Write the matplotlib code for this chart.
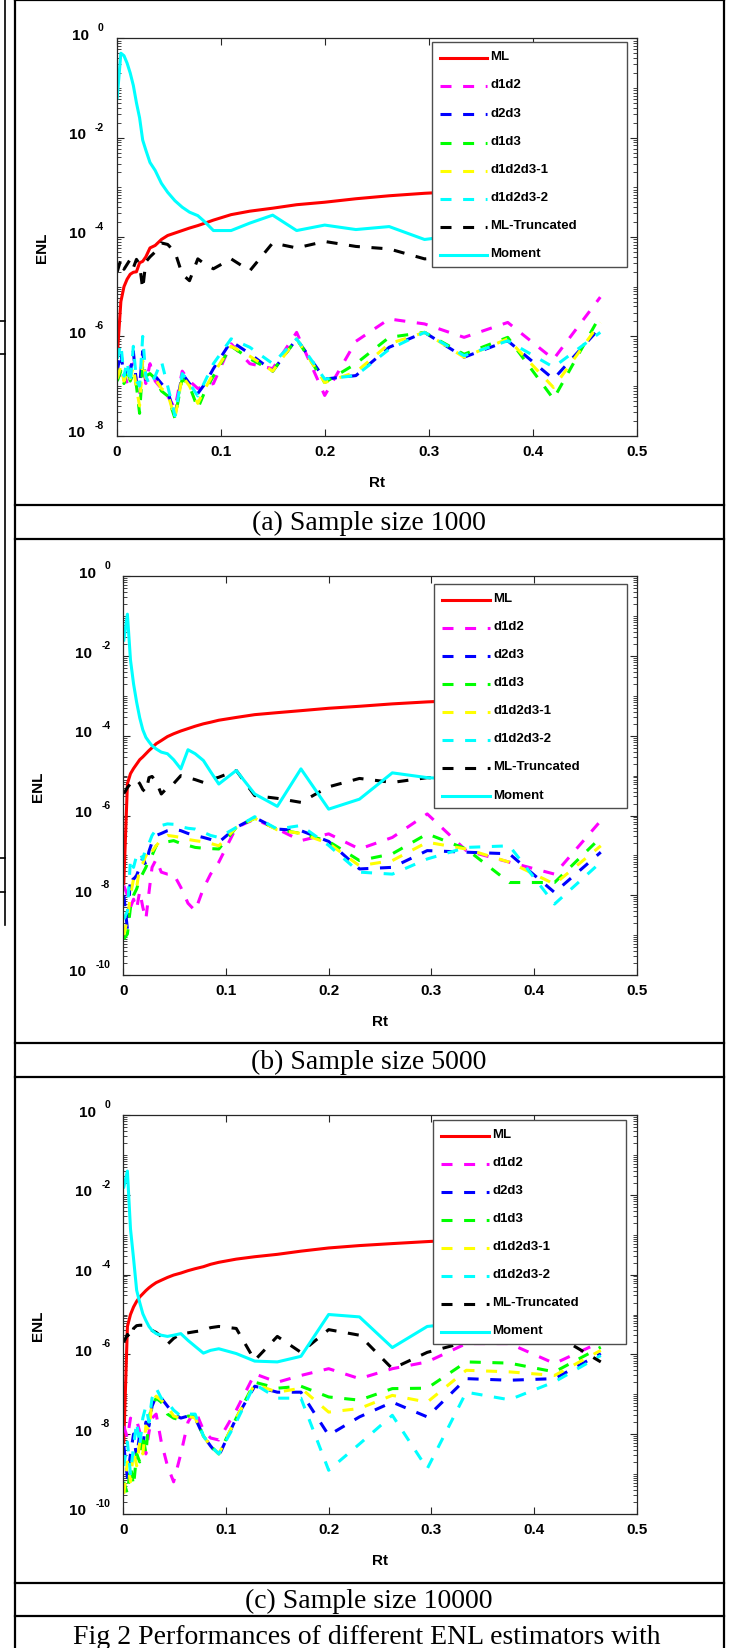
import numpy as np
import matplotlib
matplotlib.use('Agg')
import matplotlib.pyplot as plt
from matplotlib.lines import Line2D
from matplotlib.ticker import LogLocator, FixedLocator, NullFormatter
from matplotlib.transforms import ScaledTranslation
from matplotlib.legend_handler import HandlerLine2D

plt.rcParams['font.family'] = ['Liberation Sans', 'DejaVu Sans']

rt = [0.0005, 0.004, 0.007, 0.010, 0.013, 0.016, 0.019, 0.022, 0.025, 0.028,
      0.032, 0.037, 0.043, 0.049, 0.056, 0.063, 0.070, 0.078, 0.085, 0.093,
      0.110, 0.128, 0.150, 0.173, 0.200, 0.230, 0.262, 0.296, 0.334, 0.376,
      0.420, 0.465]

labels = ['ML', 'd1d2', 'd2d3', 'd1d3', 'd1d2d3-1', 'd1d2d3-2', 'ML-Truncated', 'Moment']
colors = ['#ff0000', '#ff00ff', '#0000ff', '#00ff00', '#ffff00', '#00ffff', '#000000', '#00ffff']
dashed = [False, True, True, True, True, True, True, False]

xticks = [0, 0.1, 0.2, 0.3, 0.4, 0.5]
xticklabels = ['0', '0.1', '0.2', '0.3', '0.4', '0.5']

# Panel (a): sample size 1000
a_ml = [-6.4, -5.3, -5.0, -4.85, -4.75, -4.71, -4.70, -4.52, -4.49, -4.40,
        -4.22, -4.17, -4.05, -3.97, -3.92, -3.87, -3.82, -3.77, -3.72, -3.66,
        -3.55, -3.48, -3.42, -3.35, -3.30, -3.23, -3.17, -3.12, -3.08, -3.04, -3.00, -2.97]
a_d1d2 = [-6.6, -6.85, -6.7, -6.95, -6.6, -6.55, -6.9, -7.2, -6.5, -6.95,
          -6.55, -6.9, -7.05, -7.2, -7.45, -6.7, -6.9, -7.05, -7.0, -6.95,
          -6.15, -6.55, -6.65, -5.92, -7.19, -6.1, -5.65, -5.75, -6.02, -5.72, -6.46, -5.21]
a_d2d3 = [-6.7, -6.3, -6.85, -6.6, -6.75, -6.3, -6.95, -7.0, -6.3, -6.9,
          -6.85, -6.8, -6.95, -7.1, -7.6, -6.75, -6.95, -7.15, -6.95, -6.65,
          -6.1, -6.35, -6.7, -6.05, -6.86, -6.79, -6.22, -5.92, -6.42, -6.09, -6.86, -5.82]
a_d1d3 = [-6.9, -6.7, -6.95, -6.65, -6.9, -6.75, -7.0, -7.55, -6.6, -6.8,
          -6.75, -6.85, -7.1, -7.2, -7.65, -6.85, -7.0, -7.45, -7.1, -6.8,
          -6.2, -6.45, -6.7, -6.05, -6.93, -6.55, -6.02, -5.92, -6.36, -6.02, -7.26, -5.58]
a_d1d2d3_1 = [-6.85, -6.6, -6.9, -6.7, -6.85, -6.6, -7.05, -7.4, -6.45, -6.85,
              -6.8, -6.85, -7.05, -7.15, -7.65, -6.8, -7.0, -7.35, -7.05, -6.75,
              -6.2, -6.4, -6.7, -6.05, -6.93, -6.72, -6.15, -5.92, -6.42, -6.05, -7.03, -5.72]
a_d1d2d3_2 = [-6.45, -6.15, -6.8, -6.5, -6.95, -6.2, -6.9, -7.0, -6.0, -6.8,
              -7.0, -6.8, -6.5, -7.0, -7.6, -6.75, -6.95, -7.2, -6.9, -6.55,
              -6.05, -6.22, -6.55, -6.05, -6.86, -6.79, -6.26, -5.92, -6.39, -6.09, -6.62, -5.92]
a_mltrunc = [-4.7, -4.45, -4.65, -4.55, -4.45, -4.62, -4.45, -4.55, -5.05, -4.5,
             -4.4, -4.3, -4.12, -4.15, -4.3, -4.75, -4.88, -4.44, -4.55, -4.64,
             -4.44, -4.68, -4.12, -4.22, -4.09, -4.19, -4.24, -4.44, -4.4, -4.35, -4.5, -4.4]
a_moment = [-1.2, -0.30, -0.35, -0.5, -0.7, -0.95, -1.3, -1.6, -2.05, -2.25,
            -2.5, -2.66, -2.92, -3.1, -3.27, -3.4, -3.5, -3.57, -3.7, -3.87,
            -3.87, -3.72, -3.56, -3.87, -3.76, -3.85, -3.79, -4.05, -3.95, -4.0, -4.1, -4.05]

# Panel (b): sample size 5000
b_ml = [-7.7, -5.2, -4.95, -4.82, -4.71, -4.6, -4.53, -4.45, -4.37, -4.3,
        -4.2, -4.12, -4.02, -3.95, -3.88, -3.82, -3.76, -3.70, -3.66, -3.61,
        -3.54, -3.47, -3.42, -3.37, -3.31, -3.26, -3.2, -3.15, -3.11, -3.07, -3.03, -3.0]
b_d1d2 = [-7.76, -8.0, -8.3, -8.1, -8.34, -7.9, -8.3, -8.6, -7.93, -7.3,
          -7.1, -7.42, -7.47, -7.47, -7.8, -8.2, -8.39, -7.83, -7.47, -7.17,
          -6.3, -6.09, -6.34, -6.63, -6.46, -6.84, -6.55, -5.96, -6.88, -7.17, -7.47, -6.13]
b_d2d3 = [-8.0, -8.85, -7.51, -7.6, -7.5, -7.3, -7.05, -7.25, -6.9, -6.67,
          -6.5, -6.45, -6.38, -6.34, -6.38, -6.45, -6.5, -6.55, -6.6, -6.67,
          -6.3, -6.05, -6.34, -6.38, -6.65, -7.34, -7.3, -6.88, -6.92, -6.96, -7.93, -6.92]
b_d1d3 = [-9.1, -8.97, -8.3, -8.0, -7.84, -7.6, -7.45, -7.3, -7.1, -7.0,
          -6.76, -6.7, -6.66, -6.63, -6.7, -6.75, -6.8, -6.82, -6.83, -6.84,
          -6.3, -6.07, -6.35, -6.45, -6.65, -7.13, -6.96, -6.46, -6.84, -7.68, -7.68, -6.55]
b_d1d2d3_1 = [-9.0, -8.6, -8.0, -7.59, -7.8, -7.3, -7.2, -7.0, -7.1, -6.9,
              -6.76, -6.6, -6.5, -6.52, -6.55, -6.6, -6.63, -6.66, -6.7, -6.76,
              -6.3, -6.07, -6.36, -6.45, -6.7, -7.26, -7.13, -6.67, -6.84, -7.17, -7.72, -6.76]
b_d1d2d3_2 = [-8.6, -8.4, -7.09, -7.3, -7.0, -6.92, -7.1, -6.8, -6.7, -6.5,
              -6.35, -6.25, -6.21, -6.22, -6.28, -6.32, -6.34, -6.42, -6.5, -6.55,
              -6.3, -6.03, -6.34, -6.25, -6.75, -7.42, -7.47, -7.09, -6.8, -6.76, -8.22, -7.17]
b_mltrunc = [-5.45, -5.3, -5.2, -5.13, -5.1, -5.2, -5.35, -5.42, -5.05, -5.02,
             -5.15, -5.46, -5.3, -5.2, -5.0, -5.05, -5.1, -5.17, -5.1, -5.04,
             -4.87, -5.5, -5.57, -5.67, -5.28, -5.07, -5.17, -5.05, -5.1, -5.15, -5.1, -5.15]
b_moment = [-1.6, -0.95, -2.1, -2.7, -3.16, -3.55, -3.85, -4.04, -4.15, -4.25,
            -4.33, -4.41, -4.45, -4.6, -4.83, -4.35, -4.45, -4.62, -4.9, -5.21,
            -4.87, -5.46, -5.77, -4.83, -5.84, -5.59, -4.93, -5.05, -5.1, -5.2, -5.3, -5.2]

# Panel (c): sample size 10000
c_ml = [-8.2, -5.3, -5.0, -4.81, -4.67, -4.56, -4.48, -4.4, -4.33, -4.27,
        -4.2, -4.14, -4.07, -4.01, -3.96, -3.9, -3.85, -3.8, -3.74, -3.69,
        -3.61, -3.55, -3.49, -3.41, -3.33, -3.27, -3.22, -3.17, -3.12, -3.08, -3.04, -3.0]
c_d1d2 = [-7.8, -8.1, -7.6, -7.7, -7.65, -7.95, -8.2, -8.5, -7.95, -7.6,
          -7.5, -8.2, -8.8, -9.2, -8.5, -7.7, -7.4, -7.9, -8.1, -8.15,
          -7.4, -6.49, -6.7, -6.53, -6.36, -6.61, -6.36, -6.19, -5.73, -5.73, -6.23, -5.69]
c_d2d3 = [-8.3, -9.1, -8.5, -8.0, -8.6, -8.0, -8.3, -7.7, -7.8, -7.3,
          -7.05, -7.1, -7.3, -7.5, -7.6, -7.55, -7.6, -8.05, -8.3, -8.55,
          -7.6, -6.8, -6.95, -6.95, -8.03, -7.57, -7.2, -7.57, -6.61, -6.65, -6.61, -5.98]
c_d1d3 = [-9.2, -9.5, -8.8, -9.3, -8.5, -8.7, -8.0, -8.5, -7.6, -7.3,
          -7.1, -7.2, -7.5, -7.6, -7.65, -7.55, -7.55, -8.05, -8.3, -8.5,
          -7.6, -6.7, -6.85, -6.8, -7.07, -7.15, -6.86, -6.85, -6.19, -6.22, -6.44, -5.82]
c_d1d2d3_1 = [-9.5, -8.7, -9.2, -8.4, -8.8, -8.2, -8.5, -7.8, -7.9, -7.2,
              -7.05, -7.15, -7.3, -7.55, -7.6, -7.55, -7.6, -8.05, -8.3, -8.5,
              -7.6, -6.75, -6.95, -6.85, -7.45, -7.36, -7.03, -7.2, -6.4, -6.44, -6.53, -5.9]
c_d1d2d3_2 = [-8.8, -8.2, -9.0, -8.3, -7.7, -8.3, -7.6, -7.3, -7.7, -7.1,
              -6.85, -7.1, -7.2, -7.4, -7.55, -7.5, -7.5, -8.05, -8.3, -8.5,
              -7.7, -6.75, -7.1, -7.1, -8.91, -8.25, -7.53, -8.87, -6.95, -7.14, -6.69, -6.03]
c_mltrunc = [-5.69, -5.5, -5.6, -5.35, -5.28, -5.27, -5.27, -5.3, -5.3, -5.4,
             -5.45, -5.55, -5.75, -5.6, -5.48, -5.46, -5.43, -5.4, -5.33, -5.3,
             -5.35, -6.15, -5.55, -5.95, -5.38, -5.52, -6.36, -5.95, -5.69, -5.56, -5.5, -6.19]
c_moment = [-1.8, -1.4, -2.85, -3.6, -4.39, -4.7, -4.98, -5.15, -5.3, -5.4,
            -5.48, -5.52, -5.55, -5.52, -5.48, -5.65, -5.8, -5.97, -5.9, -5.86,
            -5.98, -6.17, -6.19, -6.05, -5.0, -5.06, -5.83, -5.3, -5.2, -5.3, -5.4, -5.5]

captions = ['(a) Sample size 1000', '(b) Sample size 5000', '(c) Sample size 10000']
fig_caption = 'Fig 2 Performances of different ENL estimators with'

# ---------------- layout (pixels of a 731x1649 canvas) ----------------
W, H = 731, 1649
fig = plt.figure(figsize=(W / 100, H / 100), dpi=100)


def fx(x):
    return x / W


def fy(y):
    return 1 - y / H


class LoweredLine(HandlerLine2D):
    """Legend line drawn a little below the label (MATLAB look)."""
    def create_artists(self, legend, orig_handle, xdescent, ydescent, width, height,
                       fontsize, trans):
        arts = super().create_artists(legend, orig_handle, xdescent, ydescent, width,
                                      height, fontsize, trans)
        for a in arts:
            if isinstance(a, Line2D):
                a.set_ydata(np.asarray(a.get_ydata()) - 0.38 * height)
        return arts


panels = [
    dict(box=(116.7, 39.3, 636.7, 436.7), ymin=-8,
         data=[a_ml, a_d1d2, a_d2d3, a_d1d3, a_d1d2d3_1, a_d1d2d3_2, a_mltrunc, a_moment],
         leg=(0.606, 0.99), cap_y=523, enl_dx=75),
    dict(box=(123.3, 577.3, 636.7, 976.0), ymin=-10,
         data=[b_ml, b_d1d2, b_d2d3, b_d1d3, b_d1d2d3_1, b_d1d2d3_2, b_mltrunc, b_moment],
         leg=(0.606, 0.981), cap_y=1062, enl_dx=85),
    dict(box=(123.3, 1116.3, 636.7, 1514.7), ymin=-10,
         data=[c_ml, c_d1d2, c_d2d3, c_d1d3, c_d1d2d3_1, c_d1d2d3_2, c_mltrunc, c_moment],
         leg=(0.604, 0.989), cap_y=1601, enl_dx=85),
]

renderer = fig.canvas.get_renderer()
x_arr = np.array(rt)

for i, p in enumerate(panels):
    x0, y0, x1, y1 = p['box']
    axw, axh = x1 - x0, y1 - y0
    ax = fig.add_axes([fx(x0), fy(y1), axw / W, axh / H])
    handles = []
    for vals, lab, col, dsh in zip(p['data'], labels, colors, dashed):
        kw = dict(color=col, lw=2.2, label=lab, solid_joinstyle='round')
        if dsh:
            kw.update(linestyle=(0, (3.6, 3.8)), dash_capstyle='butt')
        ln, = ax.plot(x_arr, 10.0 ** np.array(vals), **kw)
        handles.append(ln)

    ax.set_yscale('log')
    ax.set_xlim(0, 0.5)
    ax.set_ylim(10.0 ** p['ymin'], 1.0)
    ax.xaxis.set_major_locator(FixedLocator(xticks))
    ax.set_xticklabels(xticklabels)
    ax.yaxis.set_major_locator(FixedLocator([10.0 ** k for k in range(p['ymin'], 1, 2)]))
    ax.yaxis.set_minor_locator(LogLocator(base=10, subs=np.arange(1, 10), numticks=200))
    ax.yaxis.set_major_formatter(NullFormatter())
    ax.yaxis.set_minor_formatter(NullFormatter())
    ax.tick_params(which='both', direction='in', top=True, right=True, color='#262626')
    ax.tick_params(which='major', length=5, width=0.8)
    ax.tick_params(which='minor', length=3, width=0.6)
    ax.tick_params(axis='x', labelsize=11, pad=6)
    for t in ax.get_xticklabels():
        t.set_fontweight('bold')
    for s in ax.spines.values():
        s.set_linewidth(0.9)
        s.set_color('#262626')

    # y tick labels in the "10  -k" style
    for k in range(p['ymin'], 1, 2):
        y = 10.0 ** k
        tr_e = ax.get_yaxis_transform() + ScaledTranslation(-13 / 100, 11 / 100, fig.dpi_scale_trans)
        te = ax.text(0, y, str(k), transform=tr_e, ha='right', va='center',
                     fontsize=7.5, fontweight='bold')
        wpx = te.get_window_extent(renderer).width
        tr_t = ax.get_yaxis_transform() + ScaledTranslation(-(13 + wpx + 9) / 100, 3.5 / 100,
                                                            fig.dpi_scale_trans)
        ax.text(0, y, '10', transform=tr_t, ha='right', va='center',
                fontsize=11, fontweight='bold')

    ax.text(-p['enl_dx'] / axw, 0.475, 'ENL', rotation=90, ha='center', va='center',
            transform=ax.transAxes, fontsize=11, fontweight='bold')
    ax.text(0.5, -46 / axh, 'Rt', ha='center', va='center',
            transform=ax.transAxes, fontsize=11, fontweight='bold')

    leg = ax.legend(handles=handles, labels=labels,
                    loc='upper left', bbox_to_anchor=(p['leg'][0], p['leg'][1], 0.375, 0.0),
                    mode='expand', borderaxespad=0, fancybox=False, framealpha=1,
                    edgecolor='#4d4d4d', prop=dict(size=9.5, weight='bold'),
                    handlelength=3.6, handletextpad=0.25, labelspacing=1.2, borderpad=0.6,
                    handler_map={Line2D: LoweredLine()})
    leg.get_frame().set_linewidth(1.0)

    fig.text(fx(369), fy(p['cap_y']), captions[i], ha='center', va='center',
             fontsize=20, family='Liberation Serif')

fig.text(fx(367), fy(1638), fig_caption, ha='center', va='center',
         fontsize=20, family='Liberation Serif')

# ---------------- table rules ----------------
lw_t = 1.6
def hline(y, xa, xb, lw=lw_t):
    fig.add_artist(Line2D([fx(xa), fx(xb)], [fy(y), fy(y)], color='black', lw=lw))

def vline(x, ya, yb, lw=lw_t):
    fig.add_artist(Line2D([fx(x), fx(x)], [fy(ya), fy(yb)], color='black', lw=lw))

vline(15, 0, H)
vline(724, 0, H)
hline(1, 15, 724)
for yy in [505.5, 540, 1044.3, 1078.2, 1583.6, 1617]:
    hline(yy, 15, 724)
# fragment of neighbouring table at the far left
vline(5, 0, 926, lw=1.2)
for yy in [322, 355, 859, 893]:
    hline(yy, 0, 5, lw=1.2)

fig.savefig('out.png', dpi=100)
